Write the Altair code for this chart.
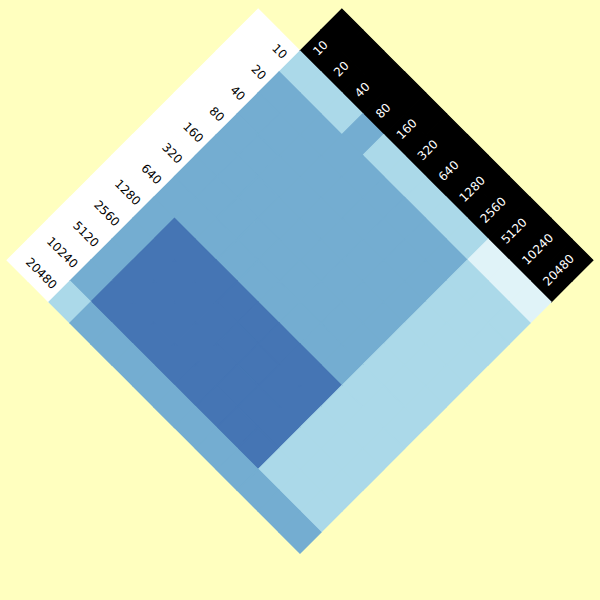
import altair as alt
import pandas as pd

# ---- data ----
labels = ["10", "20", "40", "80", "160", "320", "640", "1280", "2560", "5120", "10240", "20480"]

# level of each cell: rows = left (white) axis, columns = right (black) axis
matrix = [
    [1, 1, 1, 2, 1, 1, 1, 1, 1, 0, 0, 0],
    [2, 2, 2, 2, 2, 2, 2, 2, 2, 1, 1, 1],
    [2, 2, 2, 2, 2, 2, 2, 2, 2, 1, 1, 1],
    [2, 2, 2, 2, 2, 2, 2, 2, 2, 1, 1, 1],
    [2, 2, 2, 2, 2, 2, 2, 2, 2, 1, 1, 1],
    [2, 2, 2, 2, 2, 2, 2, 2, 2, 1, 1, 1],
    [2, 2, 2, 2, 2, 2, 2, 2, 2, 1, 1, 1],
    [2, 3, 3, 3, 3, 3, 3, 3, 3, 1, 1, 1],
    [2, 3, 3, 3, 3, 3, 3, 3, 3, 1, 1, 1],
    [2, 3, 3, 3, 3, 3, 3, 3, 3, 1, 1, 1],
    [2, 3, 3, 3, 3, 3, 3, 3, 3, 1, 1, 1],
    [1, 2, 2, 2, 2, 2, 2, 2, 2, 2, 2, 2],
]
level_colors = ["#e0f3f8", "#abd9e9", "#74add1", "#4575b4"]
background = "#ffffbf"

# ---- geometry (rotated 45 degrees) ----
S = 20.92           # half-diagonal of a cell in pixels
N = len(labels)

cells = []
for a, row in enumerate(matrix):
    for b, v in enumerate(row):
        cells.append({"p": a + 0.5, "q": b + 0.5, "level": v})
cells = pd.DataFrame(cells)

band_left = pd.DataFrame([{"p": a + 0.5, "q": k + 0.5} for a in range(N) for k in (-2, -1)])
band_right = pd.DataFrame([{"p": k + 0.5, "q": b + 0.5} for b in range(N) for k in (-2, -1)])

left_lab = pd.DataFrame({"label": labels, "p": [i + 0.5 for i in range(N)], "q": [-0.22] * N})
right_lab = pd.DataFrame({"label": labels, "p": [-0.3] * N, "q": [i + 0.42 for i in range(N)]})

xs = alt.Scale(domain=[-300 / S, 300 / S], range=[0, 600])
ys = alt.Scale(domain=[-51 / S, 549 / S], range=[0, 600])


def pos(ch):
    return ch.transform_calculate(u="datum.q - datum.p", v="datum.p + datum.q").encode(
        x=alt.X("u:Q", scale=xs, axis=None),
        y=alt.Y("v:Q", scale=ys, axis=None),
    )


size = 2 * S * S
color_scale = alt.Scale(domain=[0, 1, 2, 3], range=level_colors)

heat = pos(alt.Chart(cells).mark_square(angle=45, size=size, opacity=1, filled=True, strokeWidth=1.2)).encode(
    color=alt.Color("level:O", scale=color_scale, legend=None),
    stroke=alt.Stroke("level:O", scale=color_scale, legend=None),
)

wband = pos(alt.Chart(band_left).mark_square(angle=45, size=size, opacity=1, filled=True,
                                             color="white", stroke="white", strokeWidth=1.2))
kband = pos(alt.Chart(band_right).mark_square(angle=45, size=size, opacity=1, filled=True,
                                              color="black", stroke="black", strokeWidth=1.2))

ltext = pos(alt.Chart(left_lab).mark_text(angle=45, align="right", baseline="middle",
                                          fontSize=12, font="DejaVu Sans", color="black")).encode(text="label:N")
rtext = pos(alt.Chart(right_lab).mark_text(angle=315, align="left", baseline="middle",
                                           fontSize=12, font="DejaVu Sans", color="white")).encode(text="label:N")

chart = alt.layer(wband, kband, heat, ltext, rtext).properties(
    width=600, height=600, autosize=alt.AutoSizeParams(type="none"), padding=0,
    background=background,
).configure_view(stroke=None)

chart.save("out.html", embed_options={"renderer": "svg", "actions": False})
